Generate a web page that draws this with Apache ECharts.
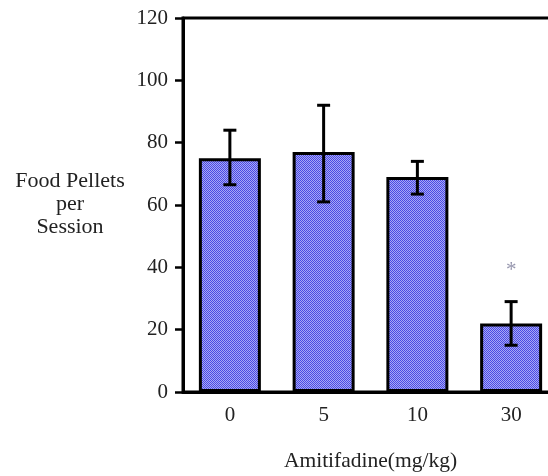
<!DOCTYPE html>
<html><head><meta charset="utf-8">
<script src="https://cdn.jsdelivr.net/npm/echarts@6/dist/echarts.min.js"></script>
<style>html,body{margin:0;padding:0;background:#fff}#c{width:548px;height:476px}</style>
</head><body><div id="c"></div>
<script>
var categories = ['0', '5', '10', '30'];
var means = [75, 77, 69, 22];
var errUpper = [84, 92, 74, 29];
var errLower = [66.5, 61, 63.5, 15];
var sigMarks = [['30', 40, '*']];
var yTicks = [0, 20, 40, 60, 80, 100, 120];

var cv = document.createElement('canvas');
cv.width = 2; cv.height = 2;
var cx = cv.getContext('2d');
cx.fillStyle = '#4a4ae4'; cx.fillRect(0,0,2,2);
cx.fillStyle = '#a8a8f5'; cx.fillRect(1,0,1,1); cx.fillRect(0,1,1,1);

var serif = '"Liberation Serif", "DejaVu Serif", serif';
var chart = echarts.init(document.getElementById('c'));
chart.setOption({
  animation: false,
  grid: {left: 183, top: 18, width: 375, height: 374, outerBoundsMode: 'none', containLabel: false,
         show: true, borderColor: '#000', borderWidth: 3},
  graphic: [{
    type: 'text', x: 70, y: 170,
    style: {text: 'Food Pellets\nper\nSession', fontFamily: serif, fontSize: 22, lineHeight: 23,
            fill: '#222', align: 'center', verticalAlign: 'top'}
  }],
  xAxis: {
    type: 'category', data: categories,
    name: 'Amitifadine(mg/kg)', nameLocation: 'middle', nameGap: 58,
    nameTextStyle: {fontFamily: serif, fontSize: 21.5, color: '#222'},
    axisLine: {lineStyle: {color: '#000', width: 3}},
    axisTick: {alignWithLabel: true, length: 8, lineStyle: {width: 2.5, color: '#000'}},
    axisLabel: {fontFamily: serif, fontSize: 21, color: '#222', margin: 13}
  },
  yAxis: {
    type: 'value', min: yTicks[0], max: yTicks[yTicks.length - 1], interval: 20,
    axisLine: {show: true, lineStyle: {color: '#000', width: 3}},
    axisTick: {show: true, length: 8, lineStyle: {width: 2.5, color: '#000'}},
    axisLabel: {fontFamily: serif, fontSize: 21, color: '#222', margin: 15},
    splitLine: {show: false}
  },
  series: [
    {
      type: 'bar', data: means, barWidth: 62, z: 2,
      itemStyle: {color: {image: cv, repeat: 'repeat'}, borderColor: '#000', borderWidth: 3}
    },
    {
      type: 'custom', z: 5,
      data: categories.map(function (c, i) { return [i, errLower[i], errUpper[i]]; }),
      renderItem: function (params, api) {
        var lo = api.coord([api.value(0), api.value(1)]);
        var hi = api.coord([api.value(0), api.value(2)]);
        var w = 6.5;
        var st = {stroke: '#000', lineWidth: 3};
        return {type: 'group', children: [
          {type: 'line', shape: {x1: lo[0], y1: lo[1], x2: hi[0], y2: hi[1]}, style: st},
          {type: 'line', shape: {x1: hi[0] - w, y1: hi[1], x2: hi[0] + w, y2: hi[1]}, style: st},
          {type: 'line', shape: {x1: lo[0] - w, y1: lo[1], x2: lo[0] + w, y2: lo[1]}, style: st}
        ]};
      }
    },
    {
      type: 'scatter', symbolSize: 0, z: 6,
      data: sigMarks.map(function (m) { return [m[0], m[1]]; }),
      label: {show: true, position: 'inside', formatter: function (p) { return sigMarks[p.dataIndex][2]; },
              fontFamily: serif, fontSize: 21, color: '#7a7a98', offset: [0, 3]}
    }
  ]
});
</script></body></html>
